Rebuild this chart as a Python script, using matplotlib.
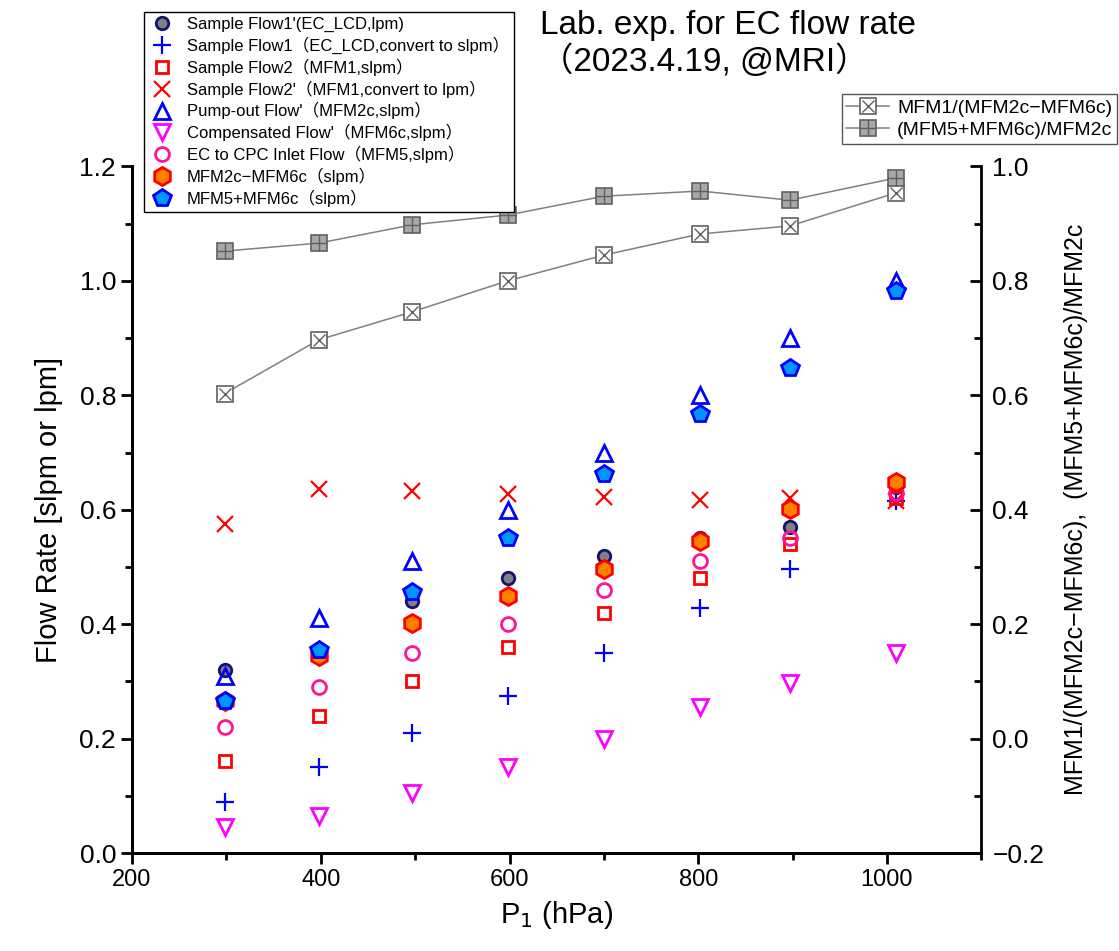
import matplotlib
matplotlib.use("Agg")
import matplotlib.pyplot as plt
from matplotlib.ticker import MultipleLocator
from matplotlib.legend_handler import HandlerTuple

plt.rcParams['font.family'] = ['Liberation Sans', 'Noto Sans CJK JP', 'DejaVu Sans']

# pressure P1 (hPa)
p1 = [298, 398, 497, 598, 700, 802, 897, 1010]

# flow rates (left axis)
flow1_lpm = [0.32, 0.345, 0.44, 0.48, 0.52, 0.55, 0.57, 0.64]
flow1_slpm = [0.09, 0.15, 0.21, 0.275, 0.35, 0.428, 0.496, 0.615]
flow2_slpm = [0.16, 0.24, 0.30, 0.36, 0.42, 0.48, 0.54, 0.62]
flow2_lpm = [0.575, 0.637, 0.632, 0.627, 0.622, 0.617, 0.62, 0.615]
pump_out = [0.31, 0.41, 0.51, 0.60, 0.70, 0.80, 0.90, 1.00]
compensated = [0.045, 0.065, 0.105, 0.15, 0.20, 0.255, 0.297, 0.35]
cpc_inlet = [0.22, 0.29, 0.35, 0.40, 0.46, 0.51, 0.55, 0.63]
mfm2c_minus_6c = [0.265, 0.345, 0.402, 0.45, 0.497, 0.545, 0.602, 0.648]
mfm5_plus_6c = [0.265, 0.355, 0.457, 0.55, 0.663, 0.767, 0.848, 0.982]

# ratios (right axis)
ratio1 = [0.603, 0.697, 0.746, 0.80, 0.845, 0.882, 0.896, 0.954]
ratio2 = [0.852, 0.866, 0.898, 0.915, 0.948, 0.957, 0.941, 0.98]

fig = plt.figure(figsize=(11.19, 9.51), dpi=100)
ax = fig.add_axes([0.118, 0.103, 0.759, 0.722])
ax2 = ax.twinx()

handles = []
handles.append(ax.plot(p1, flow1_lpm, 'o', ms=9, mfc='#808080', mec='#141470', mew=2,
                       label="Sample Flow1'(EC_LCD,lpm)")[0])
handles.append(ax.plot(p1, flow1_slpm, '+', ms=13, color='#0000ff', mew=1.6,
                       label="Sample Flow1（EC_LCD,convert to slpm）")[0])
handles.append(ax.plot(p1, flow2_slpm, 's', ms=9, mfc='none', mec='#ff0000', mew=2,
                       label="Sample Flow2（MFM1,slpm）")[0])
handles.append(ax.plot(p1, flow2_lpm, 'x', ms=11, color='#ff0000', mew=1.6,
                       label="Sample Flow2'（MFM1,convert to lpm）")[0])
handles.append(ax.plot(p1, pump_out, '^', ms=11, mfc='none', mec='#0000ff', mew=2,
                       label="Pump-out Flow'（MFM2c,slpm）")[0])
handles.append(ax.plot(p1, compensated, 'v', ms=11, mfc='none', mec='#ff00ff', mew=2,
                       label="Compensated Flow'（MFM6c,slpm）")[0])
handles.append(ax.plot(p1, cpc_inlet, 'o', ms=10, mfc='none', mec='#ff1493', mew=2,
                       label="EC to CPC Inlet Flow（MFM5,slpm）")[0])
handles.append(ax.plot(p1, mfm2c_minus_6c, 'h', ms=13, mfc='#ff8000', mec='#ff0000', mew=2,
                       label="MFM2c−MFM6c（slpm）")[0])
handles.append(ax.plot(p1, mfm5_plus_6c, 'p', ms=13, mfc='#0096ff', mec='#0000ff', mew=2,
                       label="MFM5+MFM6c（slpm）")[0])

# ratio lines with composite markers
r1a, = ax2.plot(p1, ratio1, '-s', color='#808080', lw=1.1, ms=11, mfc='white',
                mec='#606060', mew=1.2)
r1b, = ax2.plot(p1, ratio1, 'x', ms=9, color='#606060', mew=1.0)
r2a, = ax2.plot(p1, ratio2, '-s', color='#808080', lw=1.1, ms=11, mfc='#a8a8a8',
                mec='#606060', mew=1.2)
r2b, = ax2.plot(p1, ratio2, '+', ms=11, color='#606060', mew=1.0)

ax.set_xlim(200, 1100)
ax.set_ylim(0, 1.2)
ax2.set_ylim(-0.2, 1.0)

ax.xaxis.set_major_locator(MultipleLocator(200))
ax.xaxis.set_minor_locator(MultipleLocator(100))
ax.yaxis.set_major_locator(MultipleLocator(0.2))
ax.yaxis.set_minor_locator(MultipleLocator(0.1))
ax2.yaxis.set_major_locator(MultipleLocator(0.2))
ax2.yaxis.set_minor_locator(MultipleLocator(0.1))
ax.yaxis.set_major_formatter(plt.FormatStrFormatter('%.1f'))
ax2.yaxis.set_major_formatter(plt.FuncFormatter(lambda v, _: ('%.1f' % v).replace('-', '−')))

for a in (ax, ax2):
    a.spines['top'].set_visible(False)
    for s in a.spines.values():
        s.set_linewidth(2)
ax.spines['right'].set_visible(False)

ax.tick_params(axis='both', which='major', direction='out', length=8, width=2, labelsize=19)
ax.tick_params(axis='both', which='minor', direction='out', length=5, width=2)
ax.tick_params(axis='x', labelsize=17)
ax2.tick_params(axis='y', which='major', direction='in', length=8, width=2, labelsize=19, pad=8)
ax2.tick_params(axis='y', which='minor', direction='in', length=5, width=2)

ax.set_xlabel("P$_1$ (hPa)", fontsize=21, labelpad=6)
ax.set_ylabel("Flow Rate [slpm or lpm]", fontsize=21, labelpad=12)
ax2.set_ylabel("MFM1/(MFM2c−MFM6c),  (MFM5+MFM6c)/MFM2c", fontsize=18, labelpad=14)

fig.text(0.483, 0.99, "Lab. exp. for EC flow rate\n（2023.4.19, @MRI）",
         fontsize=24, va='top', ha='left', linespacing=1.15)

leg1 = fig.legend(handles=handles, loc='upper left', bbox_to_anchor=(0.121, 0.996),
                  fontsize=12, fancybox=False, edgecolor='black', framealpha=1,
                  labelspacing=0.27, handletextpad=0.7, borderpad=0.3, handlelength=1.6)
leg1.get_frame().set_linewidth(1.0)

leg2 = fig.legend(handles=[(r1a, r1b), (r2a, r2b)],
                  labels=["MFM1/(MFM2c−MFM6c)", "(MFM5+MFM6c)/MFM2c"],
                  handler_map={tuple: HandlerTuple(ndivide=1)},
                  loc='upper right', bbox_to_anchor=(1.0, 0.903), fontsize=14,
                  fancybox=False, edgecolor='#555555', framealpha=1,
                  labelspacing=0.25, handletextpad=0.4, borderpad=0.25, handlelength=2.2,
                  borderaxespad=0.1)
leg2.get_frame().set_linewidth(1.0)

fig.savefig("out.png", dpi=100)
